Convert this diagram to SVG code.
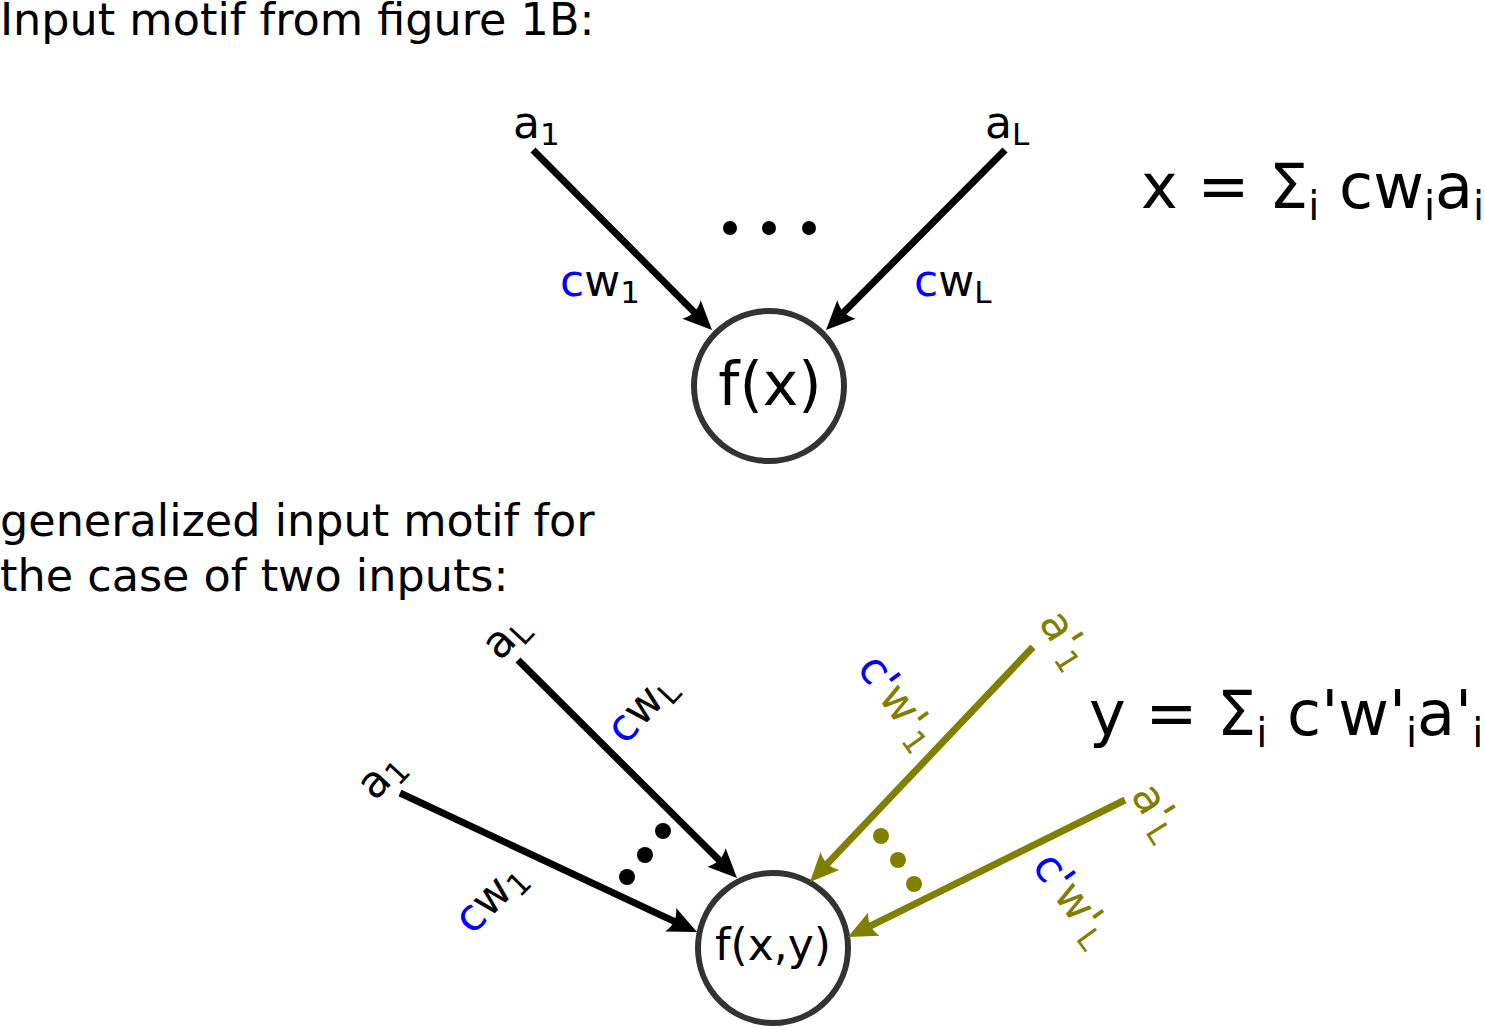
<svg xmlns="http://www.w3.org/2000/svg" width="1485" height="1027" viewBox="0 0 1485 1027">
<defs>
<style>
text{font-family:"DejaVu Sans","Liberation Sans",sans-serif;fill:#000}
.h{font-size:44.5px}
.lab{font-size:44px}
.sub{font-size:31px}
.eq{font-size:62px}
.esub{font-size:40px}
.blue{fill:#0000ff}
.ol{fill:#808000}
.node circle{fill:#fff;stroke:#333;stroke-width:6}
.k{stroke:#000;stroke-width:7;fill:none}
.g{stroke:#808000;stroke-width:7;fill:none}
</style>
<marker id="ak" markerUnits="userSpaceOnUse" viewBox="-16 -16 32 32" markerWidth="32" markerHeight="32" refX="0" refY="0" orient="auto" overflow="visible">
<path d="M14,0 L-15,-13 C-10,-4 -10,4 -15,13 Z" fill="#000"/>
</marker>
<marker id="ag" markerUnits="userSpaceOnUse" viewBox="-16 -16 32 32" markerWidth="32" markerHeight="32" refX="0" refY="0" orient="auto" overflow="visible">
<path d="M14,0 L-15,-13 C-10,-4 -10,4 -15,13 Z" fill="#808000"/>
</marker>
</defs>
<rect width="1485" height="1027" fill="#fff"/>

<g id="titles">
<text class="h" x="0" y="35">Input motif from figure 1B:</text>
<text class="h" x="0" y="536">generalized input motif for</text>
<text class="h" x="0" y="591">the case of two inputs:</text>
</g>

<g id="node-fx" class="node">
<circle cx="769" cy="386" r="75"/>
<text x="770" y="405" font-size="60" text-anchor="middle">f(x)</text>
</g>
<g id="node-fxy" class="node">
<circle cx="773" cy="948" r="75"/>
<text x="773" y="960" font-size="44" text-anchor="middle">f(x,y)</text>
</g>

<g id="connectors">
<line class="k" x1="533" y1="150" x2="702.1" y2="320.1" marker-end="url(#ak)"/>
<line class="k" x1="1005" y1="150" x2="835.9" y2="320.1" marker-end="url(#ak)"/>
<line class="k" x1="400" y1="793" x2="684.3" y2="926.1" marker-end="url(#ak)"/>
<line class="k" x1="518" y1="660" x2="727.1" y2="868.1" marker-end="url(#ak)"/>
<line class="g" x1="1033" y1="647" x2="819.6" y2="871.9" marker-end="url(#ag)"/>
<line class="g" x1="1125" y1="800" x2="860.5" y2="930.8" marker-end="url(#ag)"/>
</g>

<g id="ellipses">
<circle cx="730" cy="228" r="7"/>
<circle cx="769" cy="228" r="7"/>
<circle cx="809" cy="228" r="7"/>
<circle cx="627" cy="877" r="8"/>
<circle cx="645" cy="855" r="8"/>
<circle cx="663" cy="831" r="8"/>
<circle cx="881" cy="836" r="8" fill="#808000"/>
<circle cx="898" cy="860" r="8" fill="#808000"/>
<circle cx="914" cy="884" r="8" fill="#808000"/>
</g>

<g id="labels-top">
<text class="lab" x="513" y="138">a<tspan class="sub" dy="7">1</tspan></text>
<text class="lab" x="985" y="138">a<tspan class="sub" dy="7">L</tspan></text>
<text class="lab" x="560" y="296"><tspan class="blue">c</tspan>w<tspan class="sub" dy="7">1</tspan></text>
<text class="lab" x="914" y="296"><tspan class="blue">c</tspan>w<tspan class="sub" dy="7">L</tspan></text>
</g>

<g id="labels-bottom">
<text class="lab" transform="translate(375,802) rotate(-47)">a<tspan class="sub" dy="7">1</tspan></text>
<text class="lab" transform="translate(500,662) rotate(-47)">a<tspan class="sub" dy="7">L</tspan></text>
<text class="lab" transform="translate(625,746) rotate(-47)"><tspan class="blue">c</tspan>w<tspan class="sub" dy="7">L</tspan></text>
<text class="lab" transform="translate(472,936) rotate(-45)"><tspan class="blue">c</tspan>w<tspan class="sub" dy="7">1</tspan></text>
<text class="lab ol" transform="translate(1038,622) rotate(58)">a'<tspan class="sub" dy="7">1</tspan></text>
<text class="lab ol" transform="translate(1130,795) rotate(58)">a'<tspan class="sub" dy="7">L</tspan></text>
<text class="lab ol" transform="translate(856,668) rotate(54)"><tspan class="blue">c'</tspan>w'<tspan class="sub" dy="7">1</tspan></text>
<text class="lab ol" transform="translate(1031,866) rotate(54)"><tspan class="blue">c'</tspan>w'<tspan class="sub" dy="7">L</tspan></text>
</g>

<g id="equations">
<text class="eq" x="1141" y="208">x = Σ<tspan class="esub" dy="12">i</tspan><tspan dy="-12"> cw</tspan><tspan class="esub" dy="12">i</tspan><tspan dy="-12">a</tspan><tspan class="esub" dy="12">i</tspan></text>
<text class="eq" x="1089" y="735">y = Σ<tspan class="esub" dy="12">i</tspan><tspan dy="-12"> c'w'</tspan><tspan class="esub" dy="12">i</tspan><tspan dy="-12">a'</tspan><tspan class="esub" dy="12">i</tspan></text>
</g>
</svg>
